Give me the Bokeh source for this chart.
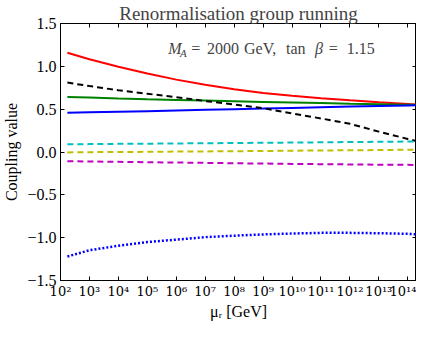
from bokeh.plotting import figure
from bokeh.models import Range1d, FixedTicker, LinearAxis, LogAxis, Label, CustomJSTickFormatter
from bokeh.embed import file_html
from bokeh.resources import INLINE

# renormalisation scale (GeV)
mu = [173, 1e3, 1e4, 1e5, 1e6, 1e7, 1e8, 1e9, 1e10, 1e11, 1e12, 1e13, 1e14, 2e14]

# couplings
red_solid = [1.158, 1.083, 0.995, 0.916, 0.845, 0.784, 0.733, 0.690, 0.657, 0.628, 0.603, 0.580, 0.561, 0.555]
green_solid = [0.643, 0.635, 0.625, 0.616, 0.608, 0.600, 0.592, 0.585, 0.578, 0.571, 0.564, 0.558, 0.552, 0.550]
blue_solid = [0.457, 0.463, 0.470, 0.477, 0.484, 0.492, 0.500, 0.507, 0.515, 0.522, 0.530, 0.537, 0.544, 0.546]
black_dashed = [0.810, 0.770, 0.720, 0.680, 0.640, 0.595, 0.555, 0.512, 0.450, 0.392, 0.329, 0.238, 0.152, 0.128]
cyan_dashed = [0.090, 0.092, 0.095, 0.097, 0.100, 0.102, 0.105, 0.108, 0.110, 0.113, 0.116, 0.119, 0.122, 0.123]
yellow_dashed = [-0.005, -0.002, 0.000, 0.002, 0.005, 0.007, 0.009, 0.012, 0.015, 0.018, 0.020, 0.023, 0.026, 0.027]
magenta_dashed = [-0.108, -0.111, -0.115, -0.119, -0.123, -0.127, -0.131, -0.135, -0.139, -0.142, -0.145, -0.148, -0.150, -0.151]
blue_dotted = [-1.220, -1.147, -1.094, -1.051, -1.023, -0.994, -0.977, -0.962, -0.952, -0.944, -0.944, -0.948, -0.955, -0.962]

x_ticks = [1e2, 1e3, 1e4, 1e5, 1e6, 1e7, 1e8, 1e9, 1e10, 1e11, 1e12, 1e13, 1e14]
y_ticks = [-1.5, -1.0, -0.5, 0.0, 0.5, 1.0, 1.5]
y_labels = {-1.5: "\u22121.5", -1.0: "\u22121.0", -0.5: "\u22120.5", 0.0: "0.0", 0.5: "0.5", 1.0: "1.0", 1.5: "1.5"}

title = "Renormalisation group running"
x_label = "\u03bc\u1d63 [GeV]"
y_label = "Coupling value"
annotation = [("M", "italic"), ("A", "italic"), ("=", "normal"), ("2000", "normal"), ("GeV,", "normal"),
              ("tan", "normal"), ("\u03b2", "italic"), ("=", "normal"), ("1.15", "normal")]

FONT = "Liberation Serif"

p = figure(width=416, height=322, x_axis_type="log", output_backend="svg",
           toolbar_location=None, x_range=Range1d(100, 2e14), y_range=Range1d(-1.5, 1.5),
           title=title, min_border_left=4, min_border_right=0, min_border_top=0, min_border_bottom=0)
p.title.text_font = FONT
p.title.text_font_size = "19px"
p.title.text_font_style = "normal"
p.title.align = "center"
p.title.standoff = 0
p.grid.visible = False
p.outline_line_color = "black"
p.outline_line_width = 1
p.background_fill_color = "white"
p.border_fill_color = "white"

xf = CustomJSTickFormatter(code="""
const sup = {'0':'\u2070','1':'\u00b9','2':'\u00b2','3':'\u00b3','4':'\u2074','5':'\u2075','6':'\u2076','7':'\u2077','8':'\u2078','9':'\u2079'};
const e = Math.round(Math.log10(tick));
return '10' + String(e).split('').map(c => sup[c]).join('');
""")

def style_axis(ax, labels=True):
    ax.axis_line_color = "black"
    ax.major_tick_in = 4
    ax.major_tick_out = 0
    ax.minor_tick_in = 0
    ax.minor_tick_out = 0
    ax.major_tick_line_color = "black"
    ax.major_label_text_font = FONT
    ax.major_label_text_font_size = "16px"
    ax.major_label_text_color = "black"
    ax.axis_label_text_font = FONT
    ax.axis_label_text_font_size = "16px"
    ax.axis_label_text_font_style = "normal"
    ax.axis_label_text_color = "black"
    if not labels:
        ax.major_label_text_font_size = "1px"
        ax.major_label_text_alpha = 0
        ax.major_label_standoff = 0

xb = p.xaxis[0]
xb.ticker = FixedTicker(ticks=x_ticks, minor_ticks=[])
xb.formatter = xf
xb.axis_label = x_label
style_axis(xb)
xb.major_label_text_font = "DejaVu Serif"
xb.major_label_text_font_size = "13px"
xb.major_label_standoff = 3
xb.axis_label_standoff = 1

yl = p.yaxis[0]
yl.ticker = FixedTicker(ticks=y_ticks, minor_ticks=[])
yl.major_label_overrides = y_labels
yl.axis_label = y_label
style_axis(yl)
yl.major_label_standoff = 4
yl.axis_label_standoff = 4

xt = LogAxis(ticker=FixedTicker(ticks=x_ticks, minor_ticks=[]))
style_axis(xt, labels=False)
p.add_layout(xt, "above")
yr = LinearAxis(ticker=FixedTicker(ticks=y_ticks, minor_ticks=[]))
style_axis(yr, labels=False)
p.add_layout(yr, "right")

p.line(mu, red_solid, line_color="#ff0000", line_width=2)
p.line(mu, green_solid, line_color="#008000", line_width=2)
p.line(mu, blue_solid, line_color="#0000ff", line_width=2)
p.line(mu, black_dashed, line_color="black", line_width=2, line_dash="6 4")
p.line(mu, cyan_dashed, line_color="#00bfbf", line_width=2, line_dash="6 4")
p.line(mu, yellow_dashed, line_color="#bfbf00", line_width=2, line_dash="6 4")
p.line(mu, magenta_dashed, line_color="#bf00bf", line_width=2, line_dash="6 4")
p.line(mu, blue_dotted, line_color="#0000ff", line_width=2.5, line_dash="2 2")

# annotation pieces, placed left-aligned along the baseline (log10 x positions)
ann_y = 1.204
ann_x = [5.72, 6.13, 6.52, 7.06, 8.34, 9.79, 10.79, 11.27, 11.89]
ann_size = ["16px", "11px", "16px", "16px", "16px", "16px", "16px", "16px", "16px"]
ann_dy = [0, -4, 0, 0, 0, 0, 0, 0, 0]
for (txt, style), lx, sz, dy in zip(annotation, ann_x, ann_size, ann_dy):
    p.add_layout(Label(x=10**lx, y=ann_y, y_offset=dy, text=txt, text_font=FONT,
                       text_font_style=style, text_font_size=sz, text_baseline="alphabetic",
                       text_align="left"))

open("out.html", "w").write(file_html(p, INLINE))
